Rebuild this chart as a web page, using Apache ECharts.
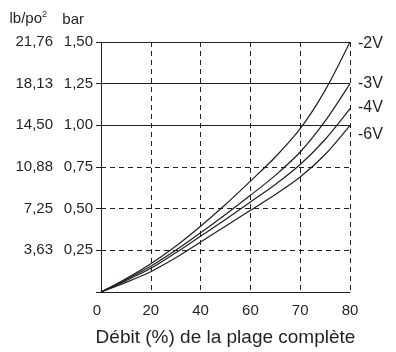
<!DOCTYPE html>
<html>
<head>
<meta charset="utf-8">
<script src="https://cdn.jsdelivr.net/npm/echarts@6/dist/echarts.min.js"></script>
<style>
html,body{margin:0;padding:0;background:#fff;}
#c{width:396px;height:352px;}
</style>
</head>
<body>
<div id="c"></div>
<script>
// x positions on the drawn tick scale (0..5 = 0,20,40,60,70,80 %)
const xTickLabels = ['0', '20', '40', '60', '70', '80'];
const xSamples = [0, 0.5, 1, 1.5, 2, 2.5, 3, 3.5, 4, 4.5, 5]; // = 0,10,20,30,40,50,60,65,70,75,80 %
const seriesNames = ['-2V', '-3V', '-4V', '-6V'];
const v2V = [0, 0.08, 0.17, 0.275, 0.395, 0.525, 0.665, 0.81, 0.98, 1.21, 1.50];
const v3V = [0, 0.075, 0.155, 0.25, 0.355, 0.465, 0.58, 0.70, 0.84, 1.025, 1.25];
const v4V = [0, 0.068, 0.142, 0.235, 0.335, 0.435, 0.54, 0.645, 0.765, 0.915, 1.10];
const v6V = [0, 0.058, 0.122, 0.205, 0.30, 0.395, 0.49, 0.585, 0.69, 0.825, 1.00];
const psiLabels = ['', '3,63', '7,25', '10,88', '14,50', '18,13', '21,76'];
const xTitle = 'Débit (%) de la plage complète';

const FONT = 'Liberation Sans, Arial, Helvetica, sans-serif';
const INK = '#231f20';
const T = 'rgba(0,0,0,0)';

function pairs(vals) { return xSamples.map((x, i) => [x, vals[i]]); }
const allVals = [v2V, v3V, v4V, v6V];
const labelOffsets = [[0, 2], [0, 0], [0, -1], [0, 9]];

const chart = echarts.init(document.getElementById('c'), null, {renderer: 'canvas'});
chart.setOption({
  animation: false,
  backgroundColor: '#fff',
  textStyle: {fontFamily: FONT},
  grid: {left: 101, right: 46, top: 42, bottom: 54, containLabel: false},
  xAxis: {
    type: 'value', min: 0, max: 5, interval: 1,
    name: xTitle, nameLocation: 'middle', nameGap: 36,
    nameTextStyle: {color: INK, fontSize: 19, fontFamily: FONT},
    axisLine: {show: true, lineStyle: {color: INK, width: 1}},
    axisTick: {show: false},
    axisLabel: {
      color: INK, fontSize: 15, fontFamily: FONT, margin: 11,
      alignMinLabel: 'right',
      formatter: v => xTickLabels[Math.round(v)]
    },
    splitLine: {show: true, lineStyle: {color: [T, INK, INK, INK, INK, INK], type: [5, 4], width: 1}}
  },
  yAxis: [
    {
      type: 'value', min: 0, max: 1.5, interval: 0.25, position: 'left',
      name: 'bar', nameLocation: 'end', nameGap: 15,
      nameTextStyle: {color: INK, fontSize: 15, fontFamily: FONT, align: 'right', padding: [0, 17, 0, 0]},
      axisLine: {show: true, lineStyle: {color: INK, width: 1}},
      axisTick: {show: true, inside: false, length: 5, lineStyle: {color: INK}},
      axisLabel: {
        color: INK, fontSize: 15, fontFamily: FONT, margin: 8,
        formatter: v => v === 0 ? '' : v.toFixed(2).replace('.', ',')
      },
      splitLine: {show: true, lineStyle: {color: [T, INK, INK, INK, T, T, T], type: [5, 4], width: 1}}
    },
    {
      type: 'value', min: 0, max: 1.5, interval: 0.25, position: 'left', offset: 40,
      name: 'lb/po{sup|2}', nameLocation: 'end', nameGap: 15,
      nameTextStyle: {
        color: INK, fontSize: 15, fontFamily: FONT, align: 'right', padding: [0, 14, 0, 0],
        rich: {sup: {fontSize: 9, verticalAlign: 'top', padding: [0, 0, 8, 0], color: INK, fontFamily: FONT}}
      },
      axisLine: {show: false},
      axisTick: {show: false},
      axisLabel: {
        color: INK, fontSize: 15, fontFamily: FONT, margin: 8,
        formatter: v => psiLabels[Math.round(v / 0.25)]
      },
      splitLine: {show: true, lineStyle: {color: [T, T, T, T, INK, INK, INK], type: 'solid', width: 1}}
    }
  ],
  series: seriesNames.map((n, i) => ({
    name: n, type: 'line', yAxisIndex: 0,
    data: pairs(allVals[i]),
    smooth: 0.3, showSymbol: false, symbol: 'none',
    lineStyle: {color: INK, width: 1.2},
    endLabel: {
      show: true, formatter: n, color: INK, fontSize: 16, fontFamily: FONT,
      distance: 8, offset: labelOffsets[i]
    },
    z: 5
  }))
});
</script>
</body>
</html>
